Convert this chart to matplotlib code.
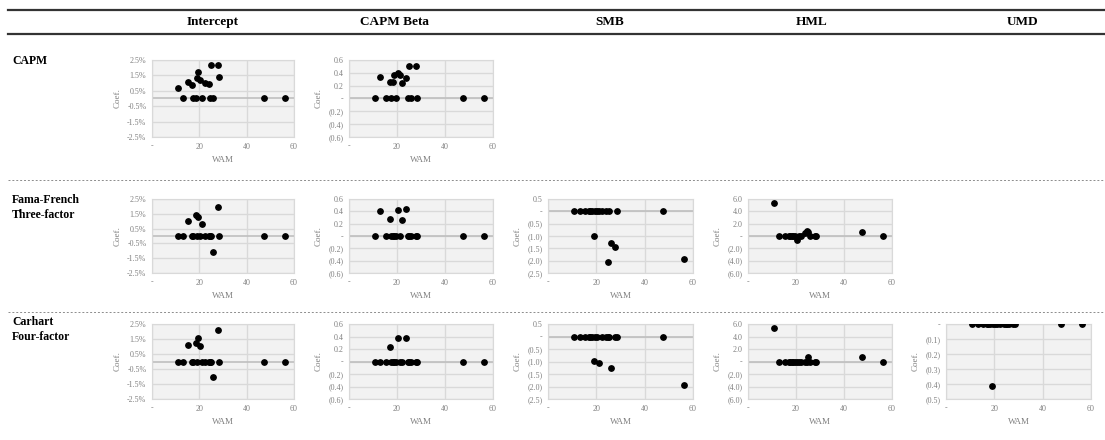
import numpy as np
import matplotlib
matplotlib.use('Agg')
import matplotlib.pyplot as plt
from matplotlib.lines import Line2D

plt.rcParams['font.family'] = ['Liberation Serif', 'DejaVu Serif']

# weighted average maturity of each fund (shared x for every panel)
wam = [10.9, 13.1, 15.3, 17.0, 17.4, 18.4, 18.9, 19.5, 20.3, 21.2,
       22.2, 23.9, 24.7, 25.1, 25.9, 27.8, 28.4, 47.4, 56.1]

# CAPM
capm_int = [0.66, 0, 1.10, 0.88, 0, 0, 1.36, 1.75, 1.23, 0,
            1.00, 0.92, 0, 2.17, 0, 2.17, 1.40, 0, 0]
capm_beta = [0, 0.34, 0, 0.26, 0, 0.26, 0.36, 0, 0.40, 0.36,
             0.24, 0.32, 0, 0.50, 0, 0.50, 0, 0, 0]
# Fama-French three-factor
ff3_int = [0, 0, 1.01, 0, 0, 1.43, 0, 1.27, 0, 0.80,
           0, 0, 0, 0, -1.10, 1.94, 0, 0, 0]
ff3_beta = [0, 0.40, 0, 0.27, 0, 0, 0, 0, 0.42, 0,
            0.26, 0.44, 0, 0, 0, 0, 0, 0, 0]
ff3_smb = [0, 0, 0, 0, 0, 0, -0.99, 0, 0, 0,
           0, 0, -2.05, 0, -1.29, -1.45, 0, 0, -1.94]
ff3_hml = [5.3, 0, 0, 0, 0, 0, 0, 0, -0.6, 0,
           0, 0.55, 0.8, 0.6, 0, 0, 0, 0.6, 0]
# Carhart four-factor
c4_int = [0, 0, 1.10, 0, 0, 1.22, 0, 1.58, 1.04, 0,
          0, 0, 0, 0, -1.06, 2.09, 0, 0, 0]
c4_beta = [0, 0, 0, 0.23, 0, 0, 0, 0, 0.375, 0,
           0, 0.375, 0, 0, 0, 0, 0, 0, 0]
c4_smb = [0, 0, 0, 0, 0, 0, -0.96, 0, 0, -1.07,
          0, 0, 0, 0, -1.25, 0, 0, 0, -1.92]
c4_hml = [5.3, 0, 0, 0, 0, 0, 0, 0, 0, 0,
          0, 0, 0, 0.69, 0, 0, 0, 0.69, 0]
c4_umd = [0, 0, 0, 0, 0, 0, -0.41, 0, 0, 0,
          0, 0, 0, 0, 0, 0, 0, 0, 0]

col_names = ['Intercept', 'CAPM Beta', 'SMB', 'HML', 'UMD']
row_names = ['CAPM', 'Fama-French\nThree-factor', 'Carhart\nFour-factor']

W, H = 1105, 440
fig = plt.figure(figsize=(W / 100, H / 100), dpi=100)


def box(l, t, r, b):
    return [l / W, 1 - b / H, (r - l) / W, (b - t) / H]


col_x = [(152, 294), (349, 493), (548, 693), (748, 892), (946, 1091)]
row_y = [(60, 137), (199, 273), (324, 399)]
head_x = [213, 395, 610, 812, 1023]

# y scales per column: ticks and formatter
def acct(v, dec):
    if abs(v) < 1e-9:
        return '-'
    s = f'{abs(v):.{dec}f}'
    return f'({s})' if v < 0 else s

scales = {
    'Intercept': (np.arange(-2.5, 2.6, 1.0), (-2.5, 2.5), lambda v: f'{v:.1f}%'),
    'CAPM Beta': (np.arange(-0.6, 0.61, 0.2), (-0.6, 0.6), lambda v: acct(v, 1)),
    'SMB': (np.arange(-2.5, 0.51, 0.5), (-2.5, 0.5), lambda v: acct(v, 1)),
    'HML': (np.arange(-6, 6.1, 2), (-6, 6), lambda v: acct(v, 1)),
    'UMD': (np.arange(-0.5, 0.01, 0.1), (-0.5, 0), lambda v: acct(v, 1)),
}

panels = [
    [capm_int, capm_beta, None, None, None],
    [ff3_int, ff3_beta, ff3_smb, ff3_hml, None],
    [c4_int, c4_beta, c4_smb, c4_hml, c4_umd],
]

grey = '#808080'
for r, row in enumerate(panels):
    for c, vals in enumerate(row):
        if vals is None:
            continue
        ax = fig.add_axes(box(col_x[c][0], row_y[r][0], col_x[c][1], row_y[r][1]))
        ax.set_facecolor('#f2f2f2')
        ticks, lim, fmt = scales[col_names[c]]
        ax.set_xlim(0, 60)
        ax.set_ylim(*lim)
        ax.set_xticks([0, 20, 40, 60])
        ax.set_xticklabels(['-', '20', '40', '60'])
        ax.set_yticks(ticks)
        ax.set_yticklabels([fmt(v) for v in ticks])
        ax.grid(True, color='#d9d9d9', lw=1)
        ax.set_axisbelow(True)
        for s in ax.spines.values():
            s.set_color('#d9d9d9')
        ax.axhline(0, color='#bfbfbf', lw=1.2, zorder=1)
        ax.tick_params(length=0, labelsize=5.8, labelcolor=grey, pad=4)
        ax.scatter(wam, vals, s=15, color='black', zorder=3)
        ax.set_xlabel('WAM', fontsize=6.5, color=grey, labelpad=4)
        ax.set_ylabel('Coef.', fontsize=6.5, color=grey, labelpad=4)

# header and rules
fig.add_artist(Line2D([8 / W, 1], [1 - 10 / H] * 2, color='#333333', lw=1.6))
fig.add_artist(Line2D([8 / W, 1], [1 - 34 / H] * 2, color='#333333', lw=1.6))
for x, name in zip(head_x, col_names):
    fig.text(x / W, 1 - 22 / H, name, ha='center', va='center',
             fontsize=9.5, fontweight='bold')
for y in [180, 312]:
    fig.add_artist(Line2D([8 / W, 1], [1 - y / H] * 2, color='#8c8c8c',
                          lw=0.7, ls=(0, (2, 2))))

row_label_y = [55, 194, 316]
for y, name in zip(row_label_y, row_names):
    fig.text(12 / W, 1 - y / H, name, ha='left', va='top',
             fontsize=8.5, fontweight='bold', linespacing=1.3)

fig.savefig('out.png', dpi=100)
